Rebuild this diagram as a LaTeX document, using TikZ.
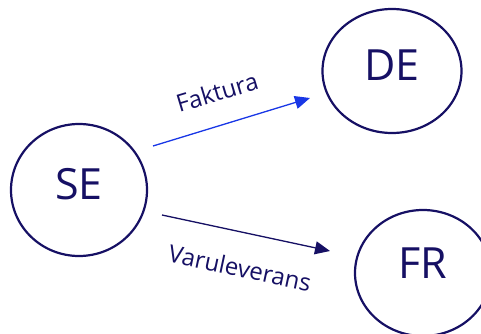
\documentclass[tikz,border=0pt]{standalone}
\usepackage{fontspec}
\setmainfont{Open Sans}
\usetikzlibrary{shapes.geometric,arrows.meta}
\definecolor{navy}{RGB}{22,16,100}
\definecolor{linkblue}{RGB}{25,55,230}

\begin{document}
\begin{tikzpicture}[x=1pt, y=-1pt,
    country/.style ={ellipse, draw=navy, line width=2.2pt, text=navy, inner sep=0pt,
      font=\fontsize{43}{43}\selectfont, text height=31pt, text depth=12pt},
    flow/.style ={line width=1.3pt, -{Triangle[length=15pt,width=13pt]}},
    flowlabel/.style ={text=navy, inner sep=0pt, font=\fontsize{24}{24}\selectfont}]
   \useasboundingbox (0,0) rectangle (481,334);

   \node[country, minimum width=136pt, minimum height=132pt] (SE) at (79,190) {SE};
   \node[country, minimum width=139pt, minimum height=124pt] (DE) at (392,71) {DE};
   \node[country, minimum width=136pt, minimum height=126pt, text depth=20pt] (FR) at (423,273) {FR};

   \coordinate (fak-start) at (153,146);
   \coordinate (fak-end)   at (310,98);
   \coordinate (var-start) at (162,215);
   \coordinate (var-end)   at (330,251);

   \draw[flow, draw=linkblue, fill=linkblue] (fak-start) to (fak-end);
   \draw[flow, draw=navy, fill=navy] (var-start) to (var-end);

   \node[flowlabel, rotate=16.7] (fak) at (217,92)  {Faktura};
   \node[flowlabel, rotate=-12]  (var) at (240,268) {Varuleverans};

 \end{tikzpicture}
\end{document}
